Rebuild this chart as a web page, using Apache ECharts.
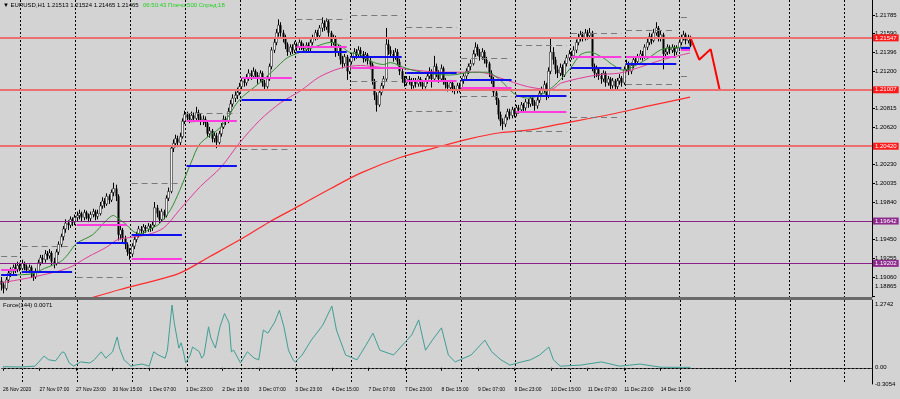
<!DOCTYPE html>
<html><head><meta charset="utf-8">
<script src="https://cdn.jsdelivr.net/npm/echarts@6/dist/echarts.min.js"></script>
<style>html,body{margin:0;padding:0;background:#d3d3d3}#c{width:900px;height:399px}</style>
</head><body><div id="c"></div>
<script>
// ---------- DATA ----------
const timeLabels = ["26 Nov 2020","27 Nov 07:00","27 Nov 23:00","30 Nov 15:00","1 Dec 07:00","1 Dec 23:00","2 Dec 15:00","3 Dec 07:00","3 Dec 23:00","4 Dec 15:00","7 Dec 07:00","7 Dec 23:00","8 Dec 15:00","9 Dec 07:00","9 Dec 23:00","10 Dec 15:00","11 Dec 07:00","11 Dec 23:00","14 Dec 15:00"];
const priceTicks = [1.21785,1.21590,1.21396,1.21200,1.20815,1.20620,1.20230,1.20035,1.19840,1.19450,1.19255,1.19060,1.18865];
const forceTicks = [1.2742, 0, -0.3054];
// [open, close, low, high] per H1 bar
const candles = [
[1.1902,1.1898,1.1892,1.1906],[1.1898,1.1894,1.1889,1.1901],[1.1894,1.1903,1.1892,1.1906],[1.1903,1.1910,1.1900,1.1913],[1.1910,1.1912,1.1906,1.1916],
[1.1912,1.1916,1.1909,1.1919],[1.1916,1.1914,1.1910,1.1920],[1.1914,1.1918,1.1911,1.1922],[1.1918,1.1915,1.1912,1.1921],[1.1915,1.1920,1.1913,1.1924],
[1.1920,1.1917,1.1913,1.1922],[1.1917,1.1913,1.1910,1.1919],[1.1913,1.1916,1.1910,1.1919],[1.1916,1.1910,1.1905,1.1918],[1.1910,1.1906,1.1902,1.1912],
[1.1906,1.1912,1.1904,1.1915],[1.1912,1.1921,1.1910,1.1924],[1.1921,1.1926,1.1918,1.1929],[1.1926,1.1924,1.1920,1.1929],[1.1924,1.1930,1.1921,1.1934],
[1.1930,1.1928,1.1924,1.1933],[1.1928,1.1931,1.1925,1.1935],[1.1931,1.1922,1.1918,1.1933],[1.1922,1.1920,1.1915,1.1926],[1.1920,1.1932,1.1918,1.1935],
[1.1932,1.1940,1.1929,1.1943],[1.1940,1.1948,1.1937,1.1951],[1.1948,1.1956,1.1944,1.1959],[1.1956,1.1962,1.1952,1.1966],[1.1962,1.1960,1.1955,1.1965],
[1.1960,1.1966,1.1957,1.1969],[1.1966,1.1963,1.1959,1.1968],[1.1963,1.1968,1.1960,1.1971],[1.1968,1.1970,1.1964,1.1974],[1.1970,1.1972,1.1966,1.1976],
[1.1972,1.1968,1.1964,1.1974],[1.1968,1.1973,1.1965,1.1976],[1.1973,1.1970,1.1966,1.1975],[1.1970,1.1967,1.1963,1.1972],[1.1967,1.1971,1.1964,1.1974],
[1.1971,1.1974,1.1968,1.1977],[1.1974,1.1969,1.1965,1.1976],[1.1969,1.1972,1.1966,1.1976],[1.1972,1.1980,1.1970,1.1984],[1.1980,1.1985,1.1977,1.1989],
[1.1985,1.1982,1.1978,1.1988],[1.1982,1.1990,1.1980,1.1993],[1.1990,1.1986,1.1982,1.1992],[1.1986,1.1994,1.1984,1.1997],[1.1994,1.1998,1.1990,1.2004],
[1.1998,1.1990,1.1985,1.2002],[1.1990,1.1950,1.1944,1.1992],[1.1950,1.1955,1.1945,1.1959],[1.1955,1.1946,1.1942,1.1957],[1.1946,1.1940,1.1935,1.1949],
[1.1940,1.1932,1.1928,1.1942],[1.1932,1.1930,1.1924,1.1936],[1.1930,1.1938,1.1927,1.1941],[1.1938,1.1945,1.1935,1.1948],[1.1945,1.1950,1.1942,1.1953],
[1.1950,1.1956,1.1947,1.1959],[1.1956,1.1954,1.1950,1.1959],[1.1954,1.1958,1.1951,1.1961],[1.1958,1.1956,1.1952,1.1960],[1.1956,1.1959,1.1953,1.1962],
[1.1959,1.1957,1.1953,1.1961],[1.1957,1.1960,1.1954,1.1964],[1.1960,1.1978,1.1958,1.1984],[1.1978,1.1972,1.1968,1.1981],[1.1972,1.1966,1.1962,1.1975],
[1.1966,1.1974,1.1964,1.1977],[1.1974,1.1970,1.1966,1.1976],[1.1970,1.1988,1.1968,1.1991],[1.1988,1.1995,1.1985,1.1999],[1.1995,1.2040,1.1993,1.2043],
[1.2040,1.2045,1.2036,1.2049],[1.2045,1.2050,1.2041,1.2054],[1.2050,1.2046,1.2041,1.2053],[1.2046,1.2052,1.2043,1.2056],[1.2052,1.2068,1.2050,1.2071],
[1.2068,1.2075,1.2065,1.2079],[1.2075,1.2072,1.2068,1.2078],[1.2072,1.2070,1.2066,1.2076],[1.2070,1.2074,1.2067,1.2078],[1.2074,1.2071,1.2067,1.2077],
[1.2071,1.2077,1.2069,1.2083],[1.2077,1.2073,1.2069,1.2080],[1.2073,1.2068,1.2064,1.2076],[1.2068,1.2070,1.2064,1.2074],[1.2070,1.2066,1.2062,1.2073],
[1.2066,1.2055,1.2052,1.2068],[1.2055,1.2058,1.2051,1.2062],[1.2058,1.2050,1.2046,1.2060],[1.2050,1.2053,1.2046,1.2057],[1.2053,1.2046,1.2040,1.2056],
[1.2046,1.2055,1.2044,1.2058],[1.2055,1.2062,1.2052,1.2066],[1.2062,1.2070,1.2060,1.2074],[1.2070,1.2068,1.2064,1.2073],[1.2068,1.2078,1.2066,1.2082],
[1.2078,1.2086,1.2075,1.2090],[1.2086,1.2092,1.2083,1.2096],[1.2092,1.2095,1.2088,1.2099],[1.2095,1.2098,1.2091,1.2103],[1.2098,1.2104,1.2095,1.2108],
[1.2104,1.2110,1.2101,1.2113],[1.2110,1.2108,1.2104,1.2114],[1.2108,1.2113,1.2105,1.2117],[1.2113,1.2118,1.2110,1.2122],[1.2118,1.2115,1.2111,1.2121],
[1.2115,1.2120,1.2112,1.2124],[1.2120,1.2116,1.2112,1.2122],[1.2116,1.2112,1.2107,1.2119],[1.2112,1.2118,1.2109,1.2121],[1.2118,1.2108,1.2104,1.2120],
[1.2108,1.2104,1.2100,1.2111],[1.2104,1.2112,1.2102,1.2115],[1.2112,1.2125,1.2110,1.2128],[1.2125,1.2142,1.2122,1.2145],[1.2142,1.2150,1.2139,1.2154],
[1.2150,1.2160,1.2147,1.2164],[1.2160,1.2168,1.2156,1.2174],[1.2168,1.2160,1.2156,1.2171],[1.2160,1.2155,1.2150,1.2163],[1.2155,1.2148,1.2143,1.2158],
[1.2148,1.2140,1.2136,1.2150],[1.2140,1.2145,1.2137,1.2148],[1.2145,1.2142,1.2138,1.2148],[1.2142,1.2148,1.2139,1.2151],[1.2148,1.2145,1.2141,1.2150],
[1.2145,1.2150,1.2142,1.2153],[1.2150,1.2146,1.2142,1.2152],[1.2146,1.2143,1.2139,1.2149],[1.2143,1.2147,1.2140,1.2150],[1.2147,1.2144,1.2140,1.2150],
[1.2144,1.2150,1.2141,1.2153],[1.2150,1.2155,1.2147,1.2158],[1.2155,1.2160,1.2152,1.2163],[1.2160,1.2157,1.2153,1.2163],[1.2157,1.2165,1.2155,1.2168],
[1.2165,1.2170,1.2161,1.2176],[1.2170,1.2166,1.2162,1.2173],[1.2166,1.2172,1.2163,1.2175],[1.2172,1.2160,1.2156,1.2174],[1.2160,1.2150,1.2146,1.2162],
[1.2150,1.2155,1.2147,1.2158],[1.2155,1.2140,1.2135,1.2157],[1.2140,1.2145,1.2136,1.2148],[1.2145,1.2132,1.2127,1.2147],[1.2132,1.2128,1.2123,1.2136],
[1.2128,1.2135,1.2125,1.2138],[1.2135,1.2120,1.2111,1.2137],[1.2120,1.2130,1.2117,1.2133],[1.2130,1.2135,1.2127,1.2139],[1.2135,1.2140,1.2131,1.2144],
[1.2140,1.2137,1.2133,1.2143],[1.2137,1.2142,1.2134,1.2146],[1.2142,1.2138,1.2134,1.2145],[1.2138,1.2133,1.2129,1.2141],[1.2133,1.2137,1.2130,1.2140],
[1.2137,1.2131,1.2127,1.2139],[1.2131,1.2127,1.2122,1.2134],[1.2127,1.2110,1.2106,1.2129],[1.2110,1.2095,1.2090,1.2112],[1.2095,1.2085,1.2078,1.2098],
[1.2085,1.2098,1.2083,1.2101],[1.2098,1.2105,1.2095,1.2108],[1.2105,1.2112,1.2102,1.2115],[1.2112,1.2148,1.2110,1.2165],[1.2148,1.2142,1.2137,1.2153],
[1.2142,1.2138,1.2134,1.2146],[1.2138,1.2135,1.2130,1.2142],[1.2135,1.2140,1.2132,1.2144],[1.2140,1.2130,1.2126,1.2143],[1.2130,1.2120,1.2116,1.2133],
[1.2120,1.2112,1.2108,1.2123],[1.2112,1.2108,1.2104,1.2115],[1.2108,1.2112,1.2105,1.2115],[1.2112,1.2110,1.2106,1.2115],[1.2110,1.2105,1.2101,1.2113],
[1.2105,1.2110,1.2102,1.2113],[1.2110,1.2107,1.2103,1.2113],[1.2107,1.2112,1.2104,1.2115],[1.2112,1.2108,1.2104,1.2114],[1.2108,1.2104,1.2100,1.2111],
[1.2104,1.2110,1.2102,1.2113],[1.2110,1.2115,1.2107,1.2118],[1.2115,1.2120,1.2112,1.2124],[1.2120,1.2112,1.2103,1.2122],[1.2112,1.2125,1.2110,1.2136],
[1.2125,1.2118,1.2114,1.2128],[1.2118,1.2112,1.2108,1.2121],[1.2112,1.2123,1.2110,1.2127],[1.2123,1.2110,1.2106,1.2125],[1.2110,1.2106,1.2102,1.2113],
[1.2106,1.2103,1.2099,1.2109],[1.2103,1.2108,1.2100,1.2111],[1.2108,1.2102,1.2098,1.2110],[1.2102,1.2100,1.2096,1.2105],[1.2100,1.2105,1.2097,1.2108],
[1.2105,1.2102,1.2098,1.2108],[1.2102,1.2110,1.2100,1.2113],[1.2110,1.2115,1.2107,1.2118],[1.2115,1.2120,1.2112,1.2123],[1.2120,1.2125,1.2117,1.2128],
[1.2125,1.2128,1.2121,1.2132],[1.2128,1.2138,1.2126,1.2142],[1.2138,1.2145,1.2135,1.2150],[1.2145,1.2140,1.2136,1.2148],[1.2140,1.2135,1.2131,1.2143],
[1.2135,1.2140,1.2132,1.2144],[1.2140,1.2132,1.2128,1.2142],[1.2132,1.2128,1.2124,1.2135],[1.2128,1.2118,1.2114,1.2130],[1.2118,1.2112,1.2107,1.2121],
[1.2112,1.2098,1.2094,1.2114],[1.2098,1.2090,1.2085,1.2101],[1.2090,1.2075,1.2070,1.2092],[1.2075,1.2068,1.2063,1.2078],[1.2068,1.2065,1.2059,1.2071],
[1.2065,1.2072,1.2062,1.2075],[1.2072,1.2078,1.2069,1.2081],[1.2078,1.2074,1.2070,1.2081],[1.2074,1.2080,1.2071,1.2083],[1.2080,1.2076,1.2072,1.2082],
[1.2076,1.2082,1.2073,1.2085],[1.2082,1.2080,1.2076,1.2085],[1.2080,1.2085,1.2077,1.2088],[1.2085,1.2082,1.2078,1.2087],[1.2082,1.2088,1.2079,1.2091],
[1.2088,1.2086,1.2082,1.2091],[1.2086,1.2092,1.2083,1.2095],[1.2092,1.2088,1.2084,1.2094],[1.2088,1.2084,1.2079,1.2090],[1.2084,1.2090,1.2081,1.2093],
[1.2090,1.2097,1.2087,1.2100],[1.2097,1.2100,1.2094,1.2104],[1.2100,1.2106,1.2097,1.2110],[1.2106,1.2095,1.2090,1.2108],[1.2095,1.2120,1.2092,1.2124],
[1.2120,1.2140,1.2117,1.2154],[1.2140,1.2132,1.2127,1.2145],[1.2132,1.2122,1.2117,1.2135],[1.2122,1.2118,1.2113,1.2126],[1.2118,1.2124,1.2115,1.2128],
[1.2124,1.2116,1.2111,1.2127],[1.2116,1.2128,1.2114,1.2131],[1.2128,1.2134,1.2125,1.2137],[1.2134,1.2138,1.2131,1.2142],[1.2138,1.2136,1.2132,1.2141],
[1.2136,1.2142,1.2133,1.2146],[1.2142,1.2150,1.2139,1.2153],[1.2150,1.2155,1.2147,1.2159],[1.2155,1.2158,1.2151,1.2162],[1.2158,1.2155,1.2151,1.2161],
[1.2155,1.2160,1.2152,1.2164],[1.2160,1.2157,1.2153,1.2163],[1.2157,1.2160,1.2154,1.2165],[1.2160,1.2125,1.2120,1.2162],[1.2125,1.2118,1.2113,1.2128],
[1.2118,1.2122,1.2114,1.2126],[1.2122,1.2115,1.2111,1.2124],[1.2115,1.2112,1.2107,1.2118],[1.2112,1.2118,1.2109,1.2121],[1.2118,1.2108,1.2104,1.2120],
[1.2108,1.2112,1.2105,1.2115],[1.2112,1.2105,1.2100,1.2114],[1.2105,1.2110,1.2102,1.2113],[1.2110,1.2104,1.2100,1.2112],[1.2104,1.2110,1.2101,1.2113],
[1.2110,1.2113,1.2106,1.2117],[1.2113,1.2108,1.2104,1.2115],[1.2108,1.2122,1.2106,1.2125],[1.2122,1.2128,1.2119,1.2132],[1.2128,1.2120,1.2116,1.2130],
[1.2120,1.2126,1.2117,1.2129],[1.2126,1.2132,1.2123,1.2135],[1.2132,1.2130,1.2126,1.2135],[1.2130,1.2135,1.2127,1.2138],[1.2135,1.2138,1.2132,1.2142],
[1.2138,1.2135,1.2131,1.2141],[1.2135,1.2145,1.2133,1.2148],[1.2145,1.2150,1.2142,1.2154],[1.2150,1.2156,1.2147,1.2160],[1.2156,1.2152,1.2148,1.2159],
[1.2152,1.2160,1.2150,1.2164],[1.2160,1.2165,1.2157,1.2171],[1.2165,1.2155,1.2151,1.2167],[1.2155,1.2158,1.2151,1.2162],[1.2158,1.2138,1.2122,1.2160],
[1.2138,1.2140,1.2134,1.2144],[1.2140,1.2145,1.2137,1.2148],[1.2145,1.2142,1.2138,1.2147],[1.2142,1.2145,1.2139,1.2148],[1.2145,1.2140,1.2136,1.2147],
[1.2140,1.2144,1.2137,1.2147],[1.2144,1.2150,1.2141,1.2153],[1.2150,1.2155,1.2147,1.2158],[1.2155,1.2158,1.2152,1.2162],[1.2158,1.2152,1.2148,1.2160],
[1.2152,1.2155,1.2149,1.2158],[1.2155,1.21465,1.2145,1.2157]
];
// moving averages: [bar index, price]
const maFast = [[0,1.1908],[13,1.1909],[19,1.1915],[26,1.1922],[29,1.1929],[33,1.1941],[40,1.1950],[46,1.1965],[49,1.1970],[51,1.1967],[54,1.1962],[58,1.1953],[61,1.1951],[65,1.1956],[69,1.1961],[74,1.1976],[78,1.1996],[83,1.2025],[87,1.2045],[96,1.2062],[104,1.2090],[113,1.2108],[119,1.2121],[125,1.2134],[131,1.2140],[139,1.2147],[144,1.2150],[148,1.2147],[152,1.2140],[157,1.2137],[162,1.2130],[167,1.2127],[170,1.2129],[177,1.2123],[186,1.2118],[196,1.2116],[206,1.2119],[212,1.2119],[218,1.2111],[224,1.2097],[230,1.2092],[237,1.2097],[243,1.2108],[249,1.2124],[253,1.2137],[257,1.2140],[263,1.2134],[267,1.2127],[272,1.2121],[278,1.2127],[283,1.2134],[288,1.2142],[292,1.2144],[298,1.2145],[301,1.2145]];
const maMid = [[0,1.1900],[14,1.1906],[29,1.1915],[38,1.1927],[46,1.1937],[51,1.1945],[56,1.1947],[64,1.1950],[71,1.1957],[78,1.1976],[87,1.2000],[96,1.2020],[104,1.2045],[113,1.2069],[122,1.2087],[131,1.2100],[139,1.2114],[148,1.2123],[157,1.2126],[166,1.2124],[174,1.2123],[192,1.2119],[209,1.2119],[218,1.2113],[230,1.2104],[240,1.2101],[245,1.2108],[260,1.2116],[270,1.2118],[275,1.2121],[289,1.2132],[301,1.2139]];
const maSlow = [[39,1.1884],[52,1.1893],[65,1.1901],[78,1.1910],[91,1.1927],[106,1.1947],[117,1.1963],[131,1.1981],[144,1.1998],[157,1.2014],[174,1.2030],[189,1.2040],[205,1.2050],[218,1.2056],[231,1.2059],[244,1.2065],[266,1.2075],[283,1.2084],[301,1.2093]];
// Force(144) oscillator: [bar index, value]
const forceIdx = [[0,0.02],[8,0.015],[14,0.03],[18,0.22],[20,0.15],[23,0.13],[26,0.30],[27,0.28],[29,0.09],[31,0.03],[34,0.11],[38,0.09],[40,0.15],[43,0.30],[45,0.18],[48,0.30],[50,0.58],[51,0.37],[53,0.15],[56,0.03],[58,0.05],[61,0.07],[64,0.03],[66,0.30],[68,0.24],[71,0.18],[72,0.33],[74,1.18],[75,0.84],[77,0.37],[78,0.47],[79,0.30],[80,0.09],[82,0.24],[83,0.39],[86,0.30],[87,0.18],[88,0.24],[90,0.77],[91,0.56],[93,0.37],[95,0.77],[97,1.02],[99,0.84],[100,0.30],[101,0.33],[104,0.09],[107,0.30],[110,0.18],[112,0.15],[114,0.71],[116,0.65],[119,0.86],[121,1.08],[123,0.77],[125,0.33],[127,0.15],[128,0.11],[131,0.24],[135,0.52],[140,0.80],[144,1.16],[146,0.71],[150,0.24],[155,0.15],[159,0.43],[162,0.65],[165,0.33],[171,0.24],[179,0.62],[182,0.90],[185,0.33],[188,0.52],[192,0.75],[195,0.24],[198,0.11],[205,0.24],[211,0.52],[214,0.30],[218,0.15],[222,0.05],[227,0.11],[231,0.15],[235,0.24],[239,0.39],[241,0.15],[244,0.03],[253,0.05],[262,0.11],[270,0.03],[279,0.07],[288,0.01],[301,0.0071]];
// horizontal levels
const redLevels = [1.21547, 1.21007, 1.20420];
const purpleLevels = [1.19642, 1.19202];
const lastPrice = 1.21465;
// daily level segments (bar index start/end per day)
const dayStarts = [0, 9, 33, 57, 81, 105, 129, 153, 177, 201, 225, 249, 273, 297];
const dayEnds   = [7, 31, 55, 79, 103, 127, 151, 175, 199, 223, 247, 271, 295, 301];
const blueLv  = [1.1908,1.1911,1.1942,1.1950,1.2022,1.2090,1.2140,1.2135,1.2118,1.2111,1.2094,1.2124,1.2128,1.2144];
const pinkLv  = [1.1914,null,1.1960,1.1925,1.2069,1.2113,1.2145,1.2124,1.2110,1.2103,1.2078,1.2135,1.2135,1.2142];
const grayHi  = [1.1928,1.1938,null,1.2003,1.2076,null,1.2174,1.2178,1.2166,1.2134,1.2147,1.2159,1.2163,1.2176];
const grayLo  = [null,null,1.1906,null,null,1.2039,1.2101,1.2110,1.2078,1.2094,1.2058,1.2072,1.2106,1.2115];
const projection = [[301,1.2156],[305,1.2132],[310,1.2143],[314,1.2100]];

// ---------- CHART ----------
const NCAT = 381;
const cats = Array.from({length: NCAT}, (_, i) => 'b' + i);
const FONT = 'Liberation Sans';
const dayLine = (i) => i % 24 === 9;
const labelIdx = (i) => i % 16 === 0 && i / 16 < timeLabels.length;
const candleRows = candles.map((r, i) => [i, r[0], r[1], r[2], r[3]]);
const edgeLow = priceTicks[priceTicks.length - 1];
const edgeTop = forceTicks[0];

function segs(levels) {
  const out = [];
  levels.forEach((v, d) => {
    if (v == null) return;
    out.push([{coord: [cats[dayStarts[d]], v]}, {coord: [cats[dayEnds[d]], v]}]);
  });
  return out;
}
function segSeries(levels, color, width, type) {
  return {
    type: 'line', xAxisIndex: 0, yAxisIndex: 0, data: [], silent: true,
    markLine: {symbol: ['none','none'], silent: true, precision: 5, label: {show: false},
      lineStyle: {color: color, width: width, type: type}, emphasis: {disabled: true},
      data: segs(levels)}
  };
}
function levelLabel(bg) {
  return {show: true, position: 'end', distance: 1, formatter: (p) => Number(p.value).toFixed(5),
    backgroundColor: bg, color: '#fff', fontSize: 6, fontFamily: FONT, padding: [1, 2, 0, 2]};
}
function renderCandle(params, api) {
  const i = api.value(0), o = api.value(1), c = api.value(2), l = api.value(3), h = api.value(4);
  const pO = api.coord([i, o]), pC = api.coord([i, c]);
  const pL = api.coord([i, l]), pH = api.coord([i, h]);
  const x = Math.round(pO[0]) + 0.5;
  const top = Math.min(pO[1], pC[1]), bot = Math.max(pO[1], pC[1]);
  const bull = c >= o;
  return {type: 'group', children: [
    {type: 'line', shape: {x1: x, y1: pH[1], x2: x, y2: pL[1]}, style: {stroke: '#000', lineWidth: 1}},
    {type: 'rect', shape: {x: x - 1, y: top, width: 2, height: Math.max(bot - top, 1)},
      style: bull ? {fill: '#f2f2f2', stroke: '#000', lineWidth: 0.5} : {fill: '#000'}}
  ]};
}

const chart = echarts.init(document.getElementById('c'), null, {renderer: 'canvas'});
chart.setOption({
  animation: false,
  backgroundColor: '#d3d3d3',
  grid: [
    {left: 0, right: 28, top: 0, height: 297},
    {left: 0, right: 28, top: 300, height: 84}
  ],
  xAxis: [
    {type: 'category', gridIndex: 0, data: cats, boundaryGap: true,
      axisLine: {show: false}, axisTick: {show: false}, axisLabel: {show: false},
      splitLine: {show: true, interval: dayLine, lineStyle: {color: '#000', width: 1, type: [2, 2]}}},
    {type: 'category', gridIndex: 1, data: cats, boundaryGap: true,
      axisLine: {show: true, lineStyle: {color: '#000', width: 1}},
      axisTick: {show: true, alignWithLabel: true, interval: labelIdx, length: 3, lineStyle: {color: '#000'}},
      axisLabel: {show: true, interval: labelIdx, formatter: (v, i) => timeLabels[i / 16],
        align: 'left', margin: 3, fontSize: 5, fontFamily: FONT, color: '#000'},
      splitLine: {show: true, interval: dayLine, lineStyle: {color: '#000', width: 1, type: [2, 2]}}}
  ],
  yAxis: [
    {type: 'value', gridIndex: 0, position: 'right', min: 1.18852, max: 1.21941,
      splitLine: {show: false},
      axisLine: {show: true, lineStyle: {color: '#000', width: 1}},
      axisTick: {show: true, length: 3, customValues: priceTicks, lineStyle: {color: '#000'}},
      axisLabel: {show: true, customValues: priceTicks,
        formatter: (v) => v === edgeLow ? '{up|' + v.toFixed(5) + '}' : v.toFixed(5),
        rich: {up: {fontSize: 6, fontFamily: FONT, color: '#000', padding: [0, 0, 18, 0]}},
        fontSize: 6, fontFamily: FONT, color: '#000', margin: 3}},
    {type: 'value', gridIndex: 1, position: 'right', min: -0.3054, max: 1.2742,
      splitLine: {show: false},
      axisLine: {show: true, lineStyle: {color: '#000', width: 1}},
      axisTick: {show: false},
      axisLabel: {show: true, customValues: forceTicks,
        formatter: (v) => v === 0 ? '0.00' : (v === edgeTop ? '{dn|' + v.toFixed(4) + '}' : v.toFixed(4)),
        rich: {dn: {fontSize: 6, fontFamily: FONT, color: '#000', padding: [8, 0, 0, 0]}},
        fontSize: 6, fontFamily: FONT, color: '#000', margin: 3}}
  ],
  series: [
    segSeries(grayHi, '#7a7a7a', 1, [6, 4]),
    segSeries(grayLo, '#7a7a7a', 1, [6, 4]),
    {
      type: 'line', xAxisIndex: 0, yAxisIndex: 0, data: [], silent: true,
      markLine: {symbol: ['none','none'], silent: true, precision: 5, emphasis: {disabled: true},
        data: [
          ...redLevels.map(v => ({yAxis: v, lineStyle: {color: '#ec7070', width: 2, type: 'solid'}, label: levelLabel('#ff1a1a')})),
          ...purpleLevels.map(v => ({yAxis: v, lineStyle: {color: '#8a1f8a', width: 1.2, type: 'solid'}, label: levelLabel('#8e2a8e')})),
          {yAxis: lastPrice, lineStyle: {opacity: 0}, label: levelLabel('#000000')}
        ]}
    },
    {type: 'custom', xAxisIndex: 0, yAxisIndex: 0, data: candleRows, renderItem: renderCandle,
      encode: {x: 0, y: [1, 2, 3, 4]}, clip: true},
    {type: 'line', xAxisIndex: 0, yAxisIndex: 0, data: maSlow, symbol: 'none', smooth: 0.3,
      lineStyle: {color: '#ff2b2b', width: 1.2}},
    {type: 'line', xAxisIndex: 0, yAxisIndex: 0, data: maMid, symbol: 'none', smooth: 0.3,
      lineStyle: {color: '#e23c9c', width: 1}},
    {type: 'line', xAxisIndex: 0, yAxisIndex: 0, data: maFast, symbol: 'none', smooth: 0.3,
      lineStyle: {color: '#2f8f2f', width: 1}},
    segSeries(pinkLv, '#ff3dde', 2, 'solid'),
    segSeries(blueLv, '#1010ee', 2, 'solid'),
    {type: 'line', xAxisIndex: 0, yAxisIndex: 0, data: projection, symbol: 'none',
      lineStyle: {color: '#ff0000', width: 2}},
    {type: 'line', xAxisIndex: 1, yAxisIndex: 1, data: forceIdx, symbol: 'none',
      lineStyle: {color: '#3f9f94', width: 1},
      markLine: {symbol: ['none','none'], silent: true, label: {show: false},
        lineStyle: {color: '#555', width: 1, type: [2, 2]}, data: [{yAxis: 0}]}}
  ],
  graphic: [
    {type: 'rect', left: 0, top: 297, shape: {width: 872, height: 3}, style: {fill: '#6a6a6a'}, z: 100},
    {type: 'text', left: 3, top: 2, style: {text: '\u25BC EURUSD,H1 1.21513 1.21524 1.21465 1.21465', fill: '#000', font: '6px "Liberation Sans"'}, z: 100},
    {type: 'text', left: 143, top: 2, style: {text: '06:50:43 Плечо:500 Спред:18', fill: '#1fd11f', font: '6px "Liberation Sans"'}, z: 100},
    {type: 'text', left: 3, top: 302, style: {text: 'Force(144) 0.0071', fill: '#000', font: '6px "Liberation Sans"'}, z: 100}
  ]
});
</script>
</body></html>
